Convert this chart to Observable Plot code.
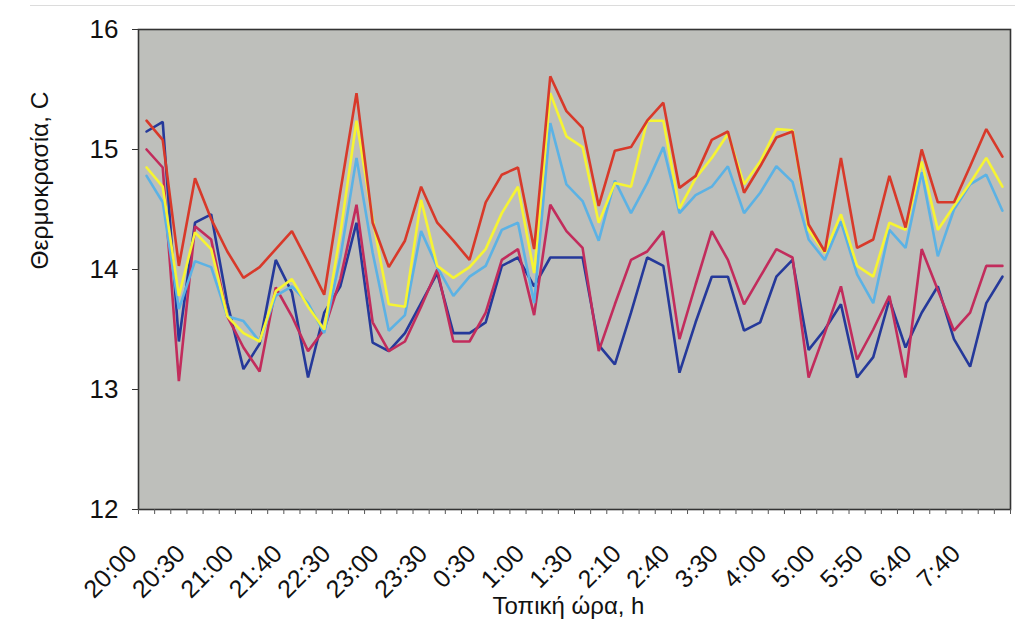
<!DOCTYPE html>
<html>
<head>
<meta charset="utf-8">
<script src="https://cdn.jsdelivr.net/npm/d3@7"></script>
<script src="https://cdn.jsdelivr.net/npm/@observablehq/plot@0.6"></script>
<style>
  html, body { margin: 0; padding: 0; background: #fff; }
  #chart { position: relative; width: 1015px; height: 636px; overflow: hidden; }
  #rule { position: absolute; left: 30px; right: 0; top: 5px; height: 0; border-top: 1px solid #dcdcdc; }
</style>
</head>
<body>
<div id="chart"><div id="rule"></div></div>
<script>
// Tick labels (every 3rd of 54 measurements)
const tickLabels = ["20:00","20:30","21:00","21:40","22:30","23:00","23:30","0:30","1:00","1:30","2:10","2:40","3:30","4:00","5:00","5:50","6:40","7:40"];
const yTicks = [12, 13, 14, 15, 16];

// Series values (°C), 54 measurements each
const redSeries = [15.24,15.08,14.03,14.76,14.42,14.15,13.93,14.02,14.17,14.32,14.06,13.79,14.65,15.47,14.39,14.02,14.24,14.69,14.39,14.24,14.08,14.56,14.79,14.85,14.17,15.61,15.32,15.18,14.53,14.99,15.02,15.24,15.39,14.68,14.78,15.08,15.15,14.64,14.86,15.10,15.15,14.375,14.15,14.93,14.18,14.25,14.78,14.35,15.0,14.56,14.56,14.86,15.17,14.94];
const yellowSeries = [14.85,14.69,13.78,14.31,14.17,13.61,13.47,13.40,13.82,13.92,13.69,13.50,14.3,15.24,14.42,13.71,13.69,14.58,14.03,13.93,14.02,14.17,14.47,14.69,13.97,15.47,15.11,15.02,14.39,14.72,14.69,15.24,15.24,14.51,14.76,14.93,15.13,14.71,14.90,15.17,15.16,14.33,14.14,14.46,14.03,13.94,14.39,14.33,14.90,14.33,14.53,14.72,14.93,14.69];
const lightBlueSeries = [14.78,14.56,13.67,14.07,14.02,13.61,13.57,13.40,13.78,13.86,13.72,13.47,14.1,14.93,14.14,13.49,13.62,14.32,14.02,13.78,13.94,14.03,14.33,14.39,13.72,15.22,14.71,14.57,14.24,14.74,14.47,14.72,15.02,14.47,14.62,14.69,14.86,14.47,14.64,14.86,14.73,14.25,14.08,14.40,13.96,13.72,14.33,14.18,14.81,14.11,14.50,14.71,14.79,14.49];
const magentaSeries = [15.0,14.85,13.07,14.36,14.25,13.61,13.35,13.15,13.85,13.61,13.32,13.50,13.92,14.54,13.56,13.32,13.40,13.69,14.0,13.40,13.40,13.64,14.08,14.17,13.62,14.54,14.32,14.18,13.32,13.71,14.08,14.15,14.32,13.42,13.875,14.32,14.08,13.71,13.94,14.17,14.10,13.10,13.47,13.86,13.25,13.5,13.78,13.10,14.17,13.83,13.49,13.64,14.03,14.03];
const navySeries = [15.15,15.23,13.40,14.39,14.46,13.72,13.17,13.38,14.08,13.81,13.10,13.64,13.86,14.39,13.39,13.32,13.47,13.72,13.97,13.47,13.47,13.56,14.03,14.10,13.86,14.10,14.10,14.10,13.37,13.21,13.64,14.10,14.03,13.14,13.56,13.94,13.94,13.49,13.56,13.94,14.08,13.33,13.5,13.71,13.10,13.27,13.75,13.35,13.64,13.86,13.42,13.19,13.72,13.94];

const seriesList = [
  {name: "navy", values: navySeries, color: "#25399a"},
  {name: "magenta", values: magentaSeries, color: "#c22c5c"},
  {name: "lightblue", values: lightBlueSeries, color: "#5cb2e4"},
  {name: "yellow", values: yellowSeries, color: "#f6f433"},
  {name: "red", values: redSeries, color: "#d8392a"}
];
const n = redSeries.length;

const rows = seriesList.flatMap(s => s.values.map((v, i) => ({series: s.name, i, x: i + 0.5, v})));
const labelPos = tickLabels.map((_, k) => k * 3 + 0.5);
const labelMap = new Map(labelPos.map((p, k) => [p, tickLabels[k]]));

const font = "'Liberation Sans', Arial, sans-serif";

const chart = Plot.plot({
  width: 1015,
  height: 636,
  marginLeft: 138,
  marginRight: 5,
  marginTop: 29,
  marginBottom: 127,
  style: {fontFamily: font, color: "#111", background: "transparent"},
  x: {domain: [0, n], axis: null},
  y: {domain: [12, 16], axis: null},
  marks: [
    Plot.frame({fill: "#bebfbb", stroke: null}),
    ...seriesList.map(s =>
      Plot.line(rows.filter(r => r.series === s.name), {x: "x", y: "v", stroke: s.color, strokeWidth: 2.6, strokeLinejoin: "miter"})
    ),
    Plot.frame({stroke: "#333", strokeWidth: 1.6}),
    Plot.axisY({ticks: yTicks, tickFormat: d3.format("d"), tickSize: 6, tickPadding: 14, fontSize: 26, label: null, stroke: "#333"}),
    Plot.axisX({ticks: d3.range(n + 1), tickFormat: () => "", tickSize: 5, label: null, stroke: "#555"}),
    Plot.axisX({ticks: labelPos, tickFormat: d => labelMap.get(d), tickSize: 0, tickPadding: 40, tickRotate: -45, fontSize: 25, label: null, dx: -14}),
    Plot.text(["Τοπική ώρα, h"], {frameAnchor: "bottom", dy: 104, dx: -6, fontSize: 24, fill: "#111"}),
    Plot.text(["Θερμοκρασία, C"], {frameAnchor: "left", rotate: -90, dx: -98, fontSize: 24.5, fill: "#111"})
  ]
});
chart.style.position = "absolute";
chart.style.left = "0";
chart.style.top = "0";
document.getElementById("chart").appendChild(chart);
</script>
</body>
</html>
